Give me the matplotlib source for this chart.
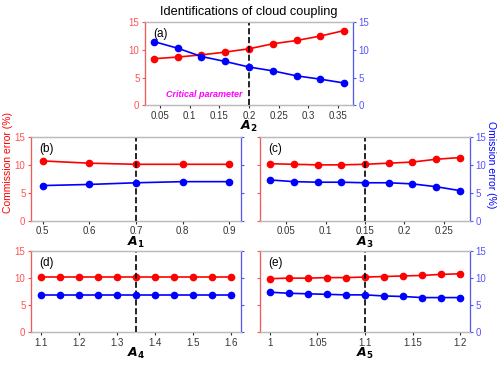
import matplotlib.pyplot as plt
import numpy as np

plt.rcParams['font.family'] = ['Liberation Sans', 'DejaVu Sans']

# panel (a): A2
a_x = [0.04, 0.08, 0.12, 0.16, 0.20, 0.24, 0.28, 0.32, 0.36]
a_com = [8.4, 8.7, 9.1, 9.6, 10.2, 11.1, 11.7, 12.5, 13.5]
a_om = [11.5, 10.3, 8.8, 7.9, 6.9, 6.2, 5.3, 4.7, 4.0]
a_ticks = [0.05, 0.1, 0.15, 0.2, 0.25, 0.3, 0.35]

# panel (b): A1
b_x = [0.5, 0.6, 0.7, 0.8, 0.9]
b_com = [10.7, 10.3, 10.1, 10.1, 10.1]
b_om = [6.3, 6.5, 6.8, 7.0, 7.0]
b_ticks = [0.5, 0.6, 0.7, 0.8, 0.9]

# panel (c): A3
c_x = [0.03, 0.06, 0.09, 0.12, 0.15, 0.18, 0.21, 0.24, 0.27]
c_com = [10.2, 10.1, 10.0, 10.0, 10.1, 10.3, 10.5, 11.0, 11.3]
c_om = [7.3, 7.0, 6.9, 6.9, 6.8, 6.8, 6.6, 6.1, 5.4]
c_ticks = [0.05, 0.1, 0.15, 0.2, 0.25]

# panel (d): A4
d_x = [1.1, 1.15, 1.2, 1.25, 1.3, 1.35, 1.4, 1.45, 1.5, 1.55, 1.6]
d_com = [10.2] * 11
d_om = [6.8] * 11
d_ticks = [1.1, 1.2, 1.3, 1.4, 1.5, 1.6]

# panel (e): A5
e_x = [1.0, 1.02, 1.04, 1.06, 1.08, 1.1, 1.12, 1.14, 1.16, 1.18, 1.2]
e_com = [9.9, 10.0, 10.0, 10.1, 10.1, 10.2, 10.3, 10.4, 10.5, 10.7, 10.8]
e_om = [7.4, 7.2, 7.1, 7.0, 6.9, 6.9, 6.7, 6.6, 6.4, 6.4, 6.4]
e_ticks = [1.0, 1.05, 1.1, 1.15, 1.2]

RED = '#ff0000'
BLUE = '#0000ff'
LRED = '#ff5555'
LBLUE = '#5555ff'

fig = plt.figure(figsize=(5, 3.65), dpi=100)


def panel(rect, x, com, om, ticks, xlim, crit, tag, sub, left_lab, right_lab):
    ax = fig.add_axes(rect)
    ax2 = ax.twinx()
    ax.plot(x, com, '-o', color=RED, lw=1.2, ms=4.5)
    ax2.plot(x, om, '-o', color=BLUE, lw=1.2, ms=4.5)
    ax.axvline(crit, color='k', ls='--', lw=1.2)
    for a in (ax, ax2):
        a.set_ylim(0, 15)
        a.set_yticks([0, 5, 10, 15])
        a.set_xlim(*xlim)
    ax.set_xticks(ticks)
    ax.set_xticklabels([f'{t:g}' for t in ticks])
    ax.tick_params(axis='x', labelsize=7, colors='#333333', length=2, pad=2)
    ax.tick_params(axis='y', labelsize=7, colors=LRED, length=2, pad=2,
                   labelleft=left_lab)
    ax2.tick_params(axis='y', labelsize=7, colors=LBLUE, length=2, pad=2,
                    labelright=right_lab)
    ax2.spines['left'].set_color(LRED)
    ax2.spines['right'].set_color(LBLUE)
    for s in ('top', 'bottom'):
        ax2.spines[s].set_color('#bbbbbb')
    ax.text(0.04, 0.93, tag, transform=ax.transAxes, fontsize=8.5,
            va='top', ha='left')
    ax.set_xlabel(r'$\mathbfit{A}_{\mathbf{%s}}$' % sub, fontsize=9,
                  labelpad=-1)
    return ax, ax2


ax, _ = panel([0.29, 0.712, 0.416, 0.227], a_x, a_com, a_om, a_ticks,
              (0.025, 0.375), 0.2, '(a)', '2', True, True)
ax.text(0.06, 1.5, 'Critical parameter', color='#ff00ff', fontsize=6.5,
        style='italic', weight='bold')
ax.set_title('Identifications of cloud coupling', fontsize=9.2, pad=5)

panel([0.062, 0.395, 0.42, 0.23], b_x, b_com, b_om, b_ticks,
      (0.475, 0.925), 0.7, '(b)', '1', True, False)
panel([0.52, 0.395, 0.42, 0.23], c_x, c_com, c_om, c_ticks,
      (0.017, 0.283), 0.15, '(c)', '3', False, True)
panel([0.062, 0.09, 0.42, 0.222], d_x, d_com, d_om, d_ticks,
      (1.075, 1.625), 1.35, '(d)', '4', True, False)
panel([0.52, 0.09, 0.42, 0.222], e_x, e_com, e_om, e_ticks,
      (0.99, 1.21), 1.1, '(e)', '5', False, True)

fig.text(0.016, 0.555, 'Commission error (%)', color=RED, fontsize=7.5,
         rotation=90, ha='center', va='center')
fig.text(0.982, 0.548, 'Omission error (%)', color=BLUE, fontsize=7.5,
         rotation=270, ha='center', va='center')

fig.savefig('out.png', dpi=100)
